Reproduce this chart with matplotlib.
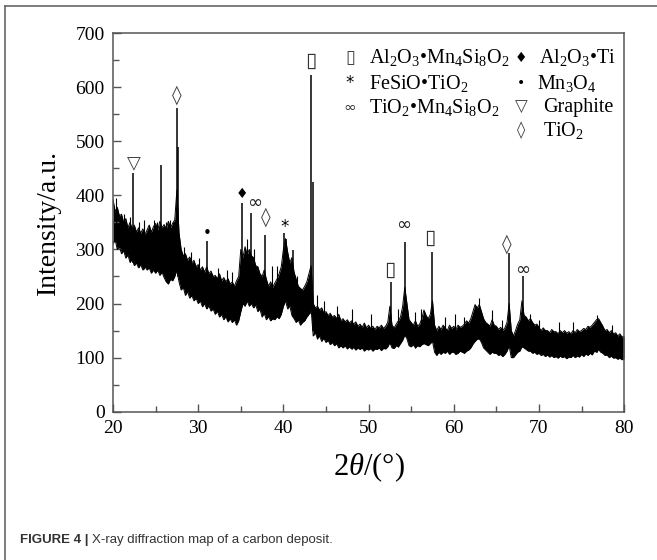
import numpy as np
import matplotlib
matplotlib.use("Agg")
import matplotlib.pyplot as plt
from matplotlib.lines import Line2D

plt.rcParams['font.family'] = ['Liberation Serif', 'DejaVu Sans']
plt.rcParams['mathtext.fontset'] = 'custom'
plt.rcParams['mathtext.rm'] = 'Liberation Serif'
plt.rcParams['mathtext.it'] = 'Liberation Serif:italic'

# noisy background of the pattern, read every 0.25 deg (upper / lower edge of the noise band)
two_theta = np.arange(20.0, 80.01, 0.25)
upper = [392, 370, 378, 362, 365, 350, 357, 340, 350, 338, 345, 332,
         340, 330, 338, 328, 336, 345, 332, 342, 348, 336, 352, 340,
         346, 338, 352, 340, 348, 355, 410, 330, 300, 288, 292, 280,
         286, 275, 280, 268, 272, 262, 268, 258, 268, 255, 260, 250,
         252, 246, 255, 242, 248, 240, 246, 236, 240, 232, 242, 250,
         300, 285, 305, 290, 300, 288, 285, 270, 268, 255, 250, 262,
         245, 232, 240, 230, 238, 245, 255, 268, 300, 320, 295, 275,
         285, 258, 245, 232, 228, 225, 232, 240, 255, 270, 200, 192,
         195, 188, 192, 182, 185, 178, 182, 175, 178, 172, 180, 168,
         172, 166, 170, 164, 168, 162, 166, 158, 162, 156, 164, 155,
         160, 154, 158, 152, 158, 155, 160, 154, 158, 165, 195, 160,
         155, 162, 168, 175, 195, 230, 200, 170, 165, 160, 168, 158,
         162, 172, 188, 178, 172, 180, 205, 160, 150, 158, 152, 160,
         155, 150, 160, 154, 158, 152, 160, 156, 158, 162, 168, 164,
         172, 185, 198, 192, 198, 185, 172, 165, 162, 158, 170, 160,
         158, 152, 156, 150, 155, 165, 200, 150, 140, 150, 162, 170,
         205, 178, 175, 168, 172, 165, 160, 162, 156, 150, 155, 150,
         150, 146, 152, 148, 148, 144, 150, 146, 150, 145, 148, 144,
         150, 146, 152, 148, 150, 154, 152, 158, 156, 160, 165, 170,
         172, 165, 158, 150, 152, 146, 150, 144, 146, 140, 144, 138,
         140]
lower = [310, 318, 300, 305, 292, 298, 284, 290, 276, 282, 270, 275,
         266, 272, 262, 268, 262, 266, 256, 262, 256, 262, 252, 258,
         248, 240, 236, 245, 242, 250, 262, 240, 225, 230, 215, 222,
         210, 215, 205, 210, 200, 205, 194, 200, 190, 196, 186, 190,
         180, 186, 175, 180, 170, 176, 166, 172, 165, 170, 160, 168,
         185, 200, 195, 205, 195, 200, 192, 198, 185, 190, 175, 182,
         170, 176, 168, 172, 170, 176, 172, 180, 195, 205, 190, 196,
         178, 172, 165, 170, 160, 165, 168, 175, 180, 190, 140, 146,
         135, 140, 130, 136, 128, 132, 124, 128, 122, 126, 118, 122,
         118, 122, 116, 120, 116, 119, 114, 118, 115, 118, 112, 116,
         114, 117, 112, 116, 115, 118, 113, 117, 116, 120, 128, 118,
         117, 122, 120, 126, 132, 142, 135, 122, 120, 124, 118, 122,
         120, 124, 126, 124, 122, 126, 130, 110, 104, 110, 106, 110,
         108, 112, 106, 110, 110, 106, 108, 112, 110, 108, 112, 114,
         118, 125, 130, 134, 135, 128, 118, 114, 110, 106, 110, 108,
         108, 104, 106, 102, 106, 112, 122, 100, 100, 105, 110, 112,
         120, 118, 115, 112, 112, 108, 110, 106, 108, 104, 106, 102,
         105, 101, 104, 100, 102, 99, 103, 100, 102, 98, 101, 100,
         104, 100, 103, 101, 106, 102, 107, 104, 108, 105, 112, 110,
         115, 110, 108, 104, 105, 100, 103, 99, 100, 97, 99, 96,
         98]

# diffraction peaks: position and top
peak_pos = [22.4, 25.6, 27.5, 27.65, 31.0, 35.2, 36.2, 37.8, 40.1, 40.3,
            41.1, 43.3, 43.45, 52.6, 54.3, 57.5, 66.5, 68.1]
peak_top = [441, 456, 561, 490, 315, 386, 367, 327, 330, 320,
            299, 622, 425, 240, 314, 296, 293, 250]

# short noise spikes sticking out of the band
spike_pos = [20.3, 21.3, 22.0, 23.1, 23.6, 24.2, 24.8, 25.2, 26.2, 26.7,
             27.1, 28.3, 29.2, 30.1, 32.3, 33.4, 34.0, 35.7, 36.6, 38.7,
             39.3, 41.6, 44.0, 44.8, 46.3, 48.0, 50.3, 53.5, 55.5, 56.2,
             59.0, 60.2, 61.2, 63.0, 64.5, 65.7, 69.0, 70.0, 72.4, 74.0,
             76.8, 78.6]
spike_top = [395, 365, 360, 350, 355, 345, 355, 350, 350, 355,
             350, 305, 295, 285, 265, 262, 258, 320, 300, 270,
             270, 250, 215, 205, 195, 190, 180, 190, 185, 190,
             175, 180, 175, 210, 188, 170, 180, 170, 165, 165,
             178, 160]

# phase symbols above peaks
mark_sym = ['▽', '◊', '•', '♦', '∞', '◊', '*', '▯', '▯', '∞', '▯', '◊', '∞']
mark_x = [22.5, 27.5, 31.0, 35.1, 36.6, 37.9, 40.1, 43.2, 52.5, 54.1, 57.2, 66.2, 68.1]
mark_y = [460, 585, 330, 402, 385, 360, 342, 648, 263, 345, 321, 309, 262]

fig = plt.figure(figsize=(6.57, 5.6), dpi=100)
ax = fig.add_axes([0.172, 0.2648, 0.778, 0.6762])

ax.fill_between(two_theta, lower, upper, color='black', lw=0)
ax.plot(two_theta, upper, color='black', lw=0.7)
ax.plot(two_theta, lower, color='black', lw=0.7)
base = np.interp(peak_pos, two_theta, lower)
ax.vlines(peak_pos, base, peak_top, color='black', lw=1.1)
sbase = np.interp(spike_pos, two_theta, lower)
ax.vlines(spike_pos, sbase, spike_top, color='black', lw=0.8)

sym_style = {'▽': (13, '#444444'), '◊': (14, '#444444'), '▯': (15, '#333333'),
             '∞': (13, '#222222'), '•': (11, 'black'), '♦': (10, 'black'), '*': (12, 'black')}
for s, x, y in zip(mark_sym, mark_x, mark_y):
    fs, col = sym_style[s]
    ax.text(x, y, s, ha='center', va='center', fontsize=fs, color=col, family=['DejaVu Sans'])

# legend written as text
leg_fs = 14.5
ax.text(47.8, 654, '▯', ha='center', va='center', fontsize=13, color='#444444', family=['DejaVu Sans'])
ax.text(50.0, 654, r'Al$_2$O$_3$•Mn$_4$Si$_8$O$_2$', ha='left', va='center', fontsize=leg_fs)
ax.text(67.9, 654, '♦', ha='center', va='center', fontsize=10, family=['DejaVu Sans'])
ax.text(70.0, 654, r'Al$_2$O$_3$•Ti', ha='left', va='center', fontsize=leg_fs)
ax.text(47.8, 607, '*', ha='center', va='center', fontsize=12, family=['DejaVu Sans'])
ax.text(50.0, 607, r'FeSiO•TiO$_2$', ha='left', va='center', fontsize=leg_fs)
ax.text(67.9, 607, '•', ha='center', va='center', fontsize=10, family=['DejaVu Sans'])
ax.text(69.8, 607, r'Mn$_3$O$_4$', ha='left', va='center', fontsize=leg_fs)
ax.text(47.8, 563, '∞', ha='center', va='center', fontsize=11, color='#333333', family=['DejaVu Sans'])
ax.text(50.0, 563, r'TiO$_2$•Mn$_4$Si$_8$O$_2$', ha='left', va='center', fontsize=leg_fs)
ax.text(67.9, 563, '▽', ha='center', va='center', fontsize=12, color='#444444', family=['DejaVu Sans'])
ax.text(70.5, 563, 'Graphite', ha='left', va='center', fontsize=leg_fs)
ax.text(67.9, 520, '◊', ha='center', va='center', fontsize=12, color='#444444', family=['DejaVu Sans'])
ax.text(70.5, 520, r'TiO$_2$', ha='left', va='center', fontsize=leg_fs)

ax.set_xlim(20, 80)
ax.set_ylim(0, 700)
ax.set_xticks(np.arange(20, 81, 10))
ax.set_xticks(np.arange(25, 80, 10), minor=True)
ax.set_yticks(np.arange(0, 701, 100))
ax.set_yticks(np.arange(50, 700, 100), minor=True)
ax.tick_params(which='both', direction='in', color='#555555', width=1, labelsize=14, top=False, right=False)
ax.tick_params(which='major', length=6, pad=6)
ax.tick_params(which='minor', length=4)
for sp in ax.spines.values():
    sp.set_color('#555555')
    sp.set_linewidth(1.1)

ax.set_ylabel('Intensity/a.u.', fontsize=20, labelpad=10)
ax.set_xlabel(r'2$\it{\theta}$/(°)', fontsize=22, labelpad=10)

# outer frame of the figure panel (left and top edges)
fig.add_artist(Line2D([5 / 657, 5 / 657], [0, 1 - 6 / 560], color='#666666', lw=1.2))
fig.add_artist(Line2D([5 / 657, 1], [1 - 6 / 560, 1 - 6 / 560], color='#666666', lw=1.2))

fig.text(20 / 657, 1 - 540 / 560, 'FIGURE 4 |', fontsize=9.5, fontweight='bold',
         family=['Liberation Sans'], color='#333333', va='center')
fig.text(92 / 657, 1 - 540 / 560, 'X-ray diffraction map of a carbon deposit.', fontsize=9.5,
         family=['Liberation Sans'], color='#333333', va='center')

fig.savefig('out.png', dpi=100)
